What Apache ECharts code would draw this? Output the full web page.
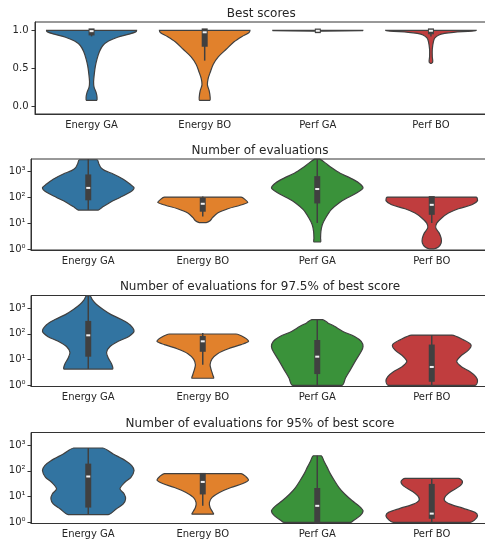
<!DOCTYPE html>
<html>
<head>
<meta charset="utf-8">
<script src="https://cdn.jsdelivr.net/npm/echarts@6/dist/echarts.min.js"></script>
<style>
  html, body { margin: 0; padding: 0; background: #fff; }
  #main { width: 485px; height: 541px; }
</style>
</head>
<body>
<div id="main"></div>
<script>
var categories = ['Energy GA', 'Energy BO', 'Perf GA', 'Perf BO'];
var titles = ['Best scores', 'Number of evaluations',
  'Number of evaluations for 97.5% of best score', 'Number of evaluations for 95% of best score'];
var colors = ['#3274a1', '#e1812c', '#3a923a', '#c03d3e'];

// violin outlines, bottom to top: [value, half width as share of the category band]
var bestShape = [
  [[0.075, 0.045], [0.12, 0.048], [0.18, 0.04], [0.25, 0.022], [0.32, 0.018], [0.42, 0.024], [0.52, 0.033],
   [0.62, 0.048], [0.72, 0.07], [0.8, 0.1], [0.86, 0.15], [0.91, 0.23], [0.95, 0.33], [0.98, 0.39], [1.0, 0.398]],
  [[0.075, 0.045], [0.12, 0.048], [0.2, 0.04], [0.28, 0.024], [0.36, 0.03], [0.45, 0.05], [0.55, 0.075],
   [0.65, 0.12], [0.75, 0.19], [0.85, 0.26], [0.92, 0.33], [0.97, 0.39], [1.0, 0.4]],
  [[0.978, 0.008], [0.99, 0.02], [0.996, 0.39], [1.0, 0.398]],
  [[0.565, 0.005], [0.575, 0.014], [0.6, 0.016], [0.65, 0.012], [0.75, 0.012], [0.85, 0.022], [0.9, 0.035],
   [0.94, 0.07], [0.96, 0.12], [0.975, 0.2], [0.99, 0.36], [1.0, 0.4]]
];
// [whisker low, q1, median, q3, whisker high]
var bestBox = [
  [0.92, 0.96, 0.99, 1.0, 1.0],
  [0.6, 0.81, 0.975, 1.0, 1.0],
  [0.985, 0.99, 0.995, 0.998, 1.0],
  [0.92, 0.975, 0.995, 1.0, 1.0]
];

var evalShape = [
  [[32, 0.087], [41, 0.122], [63, 0.19], [98, 0.277], [155, 0.364], [229, 0.4], [324, 0.364], [500, 0.306],
   [794, 0.218], [1070, 0.146], [1410, 0.11], [1950, 0.093], [2820, 0.077]],
  [[10.5, 0.03], [12.3, 0.064], [16.6, 0.087], [24.5, 0.13], [36, 0.22], [49, 0.326], [63, 0.393], [79, 0.373], [102, 0.335]],
  [[1.86, 0.029], [2.6, 0.029], [4.8, 0.032], [8.7, 0.044], [15.8, 0.073], [33, 0.122], [60, 0.19], [93, 0.26],
   [145, 0.343], [229, 0.4], [355, 0.364], [550, 0.29], [850, 0.2], [1350, 0.13], [2090, 0.073], [3000, 0.023]],
  [[1, 0.017], [1.2, 0.058], [1.7, 0.082], [2.6, 0.082], [4.2, 0.064], [6.5, 0.035], [10, 0.044], [15.8, 0.087],
   [24.5, 0.146], [36, 0.233], [51, 0.35], [74, 0.4], [102, 0.387]]
];
var evalBox = [
  [32, 91, 230, 640, 3000],
  [18, 33, 56, 80, 107],
  [10, 69, 208, 550, 3000],
  [10, 25, 51, 93, 100]
];

var eval975Shape = [
  [[4.3, 0.21], [6.8, 0.204], [11.5, 0.175], [19, 0.16], [32, 0.19], [51, 0.262], [79, 0.355], [126, 0.4],
   [224, 0.364], [355, 0.29], [550, 0.2], [870, 0.13], [1350, 0.073], [2090, 0.035], [3000, 0.015]],
  [[1.9, 0.093], [2.6, 0.087], [4.1, 0.073], [6.3, 0.064], [10.5, 0.08], [17, 0.13], [25.7, 0.218], [38, 0.335],
   [51, 0.4], [72, 0.364], [98, 0.29]],
  [[1, 0.215], [1.95, 0.247], [4.1, 0.29], [10, 0.34], [21, 0.385], [32, 0.4], [51, 0.384], [79, 0.326],
   [123, 0.224], [195, 0.15], [263, 0.093], [352, 0.048]],
  [[1, 0.378], [1.48, 0.4], [2.2, 0.384], [3.4, 0.335], [5.2, 0.262], [8.3, 0.218], [12.9, 0.247], [23.4, 0.32],
   [37, 0.343], [58, 0.277], [89, 0.175]]
];
var eval975Box = [
  [4.3, 15.5, 87, 263, 3000],
  [6.3, 24, 51, 69, 107],
  [1, 3.3, 13, 48, 352],
  [1, 1.66, 5.2, 32, 89]
];

var eval95Shape = [
  [[2.0, 0.175], [3.4, 0.247], [5.2, 0.306], [8.1, 0.326], [12.6, 0.314], [20, 0.277], [36, 0.32], [56, 0.373],
   [102, 0.4], [158, 0.38], [245, 0.326], [447, 0.218], [760, 0.127]],
  [[2.1, 0.093], [2.7, 0.082], [3.8, 0.064], [5.9, 0.058], [9.3, 0.082], [14.5, 0.146], [22.4, 0.247], [32, 0.35],
   [44, 0.4], [59, 0.378], [78, 0.335]],
  [[1, 0.29], [1.23, 0.32], [1.8, 0.373], [2.8, 0.4], [4.4, 0.364], [6.9, 0.306], [12.6, 0.24], [22.4, 0.19],
   [41, 0.151], [74, 0.116], [135, 0.087], [240, 0.058], [380, 0.035]],
  [[1, 0.335], [1.23, 0.373], [1.8, 0.4], [2.45, 0.378], [3.5, 0.277], [5.1, 0.16], [7.2, 0.11], [10.7, 0.122],
   [16.6, 0.175], [26, 0.247], [39, 0.268], [51, 0.233]]
];
var eval95Box = [
  [2.0, 4.5, 60, 158, 760],
  [4.4, 14.5, 37, 69, 78],
  [1, 1.1, 4.4, 18, 380],
  [1, 1.66, 2.2, 26, 51]
];

var linTicks = [0, 0.5, 1.0];
var logTicks = [1, 10, 100, 1000];
var supers = { 0: '\u2070', 1: '\u00b9', 2: '\u00b2', 3: '\u00b3' };

var FONT = 'DejaVu Sans';
var LINE = '#404040';

var grids = [
  { left: 35, top: 22, width: 452.5, height: 92 },
  { left: 31, top: 159, width: 458, height: 91 },
  { left: 31, top: 295.5, width: 458, height: 91 },
  { left: 31, top: 432.5, width: 458, height: 91 }
];

function ident(v) { return v; }
function lg(v) { return Math.log10(v); }

function violinSeries(p, shapes, boxes, tr) {
  return {
    type: 'custom',
    xAxisIndex: p,
    yAxisIndex: p,
    encode: { x: 0, y: 1 },
    data: categories.map(function (c, i) { return [i, tr(boxes[i][2])]; }),
    renderItem: function (params, api) {
      var i = api.value(0);
      var band = api.size([1, 0])[0];
      var left = [], right = [];
      var minX = Infinity, maxX = -Infinity, minY = Infinity, maxY = -Infinity;
      shapes[i].forEach(function (s) {
        var c = api.coord([i, tr(s[0])]);
        var d = s[1] * band;
        left.push([c[0] - d, c[1]]);
        right.unshift([c[0] + d, c[1]]);
        minX = Math.min(minX, c[0] - d); maxX = Math.max(maxX, c[0] + d);
        minY = Math.min(minY, c[1]); maxY = Math.max(maxY, c[1]);
      });
      var b = boxes[i];
      var cx = api.coord([i, tr(b[2])])[0];
      var yLo = api.coord([i, tr(b[0])])[1];
      var yQ1 = api.coord([i, tr(b[1])])[1];
      var yMed = api.coord([i, tr(b[2])])[1];
      var yQ3 = api.coord([i, tr(b[3])])[1];
      var yHi = api.coord([i, tr(b[4])])[1];
      return {
        type: 'group',
        children: [
          {
            type: 'polygon',
            shape: { points: left.concat(right), smooth: 0.3, smoothConstraint: [[minX, minY], [maxX, maxY]] },
            style: { fill: colors[i], stroke: LINE, lineWidth: 1.2 }
          },
          {
            type: 'line',
            shape: { x1: cx, y1: yLo, x2: cx, y2: yHi },
            style: { stroke: LINE, lineWidth: 1.5 }
          },
          {
            type: 'rect',
            shape: { x: cx - 3, y: yQ3 - 2, width: 6, height: yQ1 - yQ3 + 4 },
            style: { fill: LINE }
          },
          {
            type: 'rect',
            shape: { x: cx - 2, y: yMed - 1, width: 4, height: 2 },
            style: { fill: '#f2f2f2' }
          }
        ]
      };
    }
  };
}

var isLog = [false, true, true, true];
var allShapes = [bestShape, evalShape, eval975Shape, eval95Shape];
var allBoxes = [bestBox, evalBox, eval975Box, eval95Box];

var minorTicks = [];
[1, 10, 100, 1000].forEach(function (d) {
  for (var k = 2; k <= 9; k++) {
    if (k * d <= 3000) minorTicks.push(Math.log10(k * d));
  }
});

var xAxes = [], yAxes = [], series = [], titleOpts = [];
grids.forEach(function (g, p) {
  var log = isLog[p];
  titleOpts.push({
    text: titles[p],
    left: g.left + g.width / 2,
    top: g.top - 14.5,
    textAlign: 'center',
    padding: 0,
    textStyle: { fontSize: 12, fontWeight: 'normal', color: '#262626', fontFamily: FONT }
  });
  xAxes.push({
    type: 'category',
    gridIndex: p,
    data: categories,
    axisLine: { onZero: false, lineStyle: { color: '#333', width: 1 } },
    axisTick: { alignWithLabel: true, length: 3.5, lineStyle: { color: '#333' } },
    axisLabel: { color: '#262626', fontSize: 10, fontFamily: FONT, margin: 6 },
    splitLine: { show: false }
  });
  yAxes.push({
    type: 'value',
    gridIndex: p,
    min: log ? -0.04 : -0.106,
    max: log ? 3.48 : 1.111,
    axisLine: { show: true, onZero: false, lineStyle: { color: '#333', width: 1 } },
    axisTick: {
      show: true, length: 3.5, lineStyle: { color: '#333' },
      customValues: log ? logTicks.map(lg) : linTicks
    },
    axisLabel: {
      color: '#262626', fontSize: 10, fontFamily: FONT, margin: log ? 5.5 : 6.5,
      customValues: log ? logTicks.map(lg) : linTicks,
      formatter: function (v) {
        if (log) return '10' + supers[Math.round(v)];
        return v.toFixed(1);
      }
    },
    splitLine: { show: false }
  });
  series.push(violinSeries(p, allShapes[p], allBoxes[p], log ? lg : ident));
});

// minor log ticks on the three lower panels
[1, 2, 3].forEach(function (p) {
  yAxes.push({
    type: 'value',
    gridIndex: p,
    min: -0.04,
    max: 3.48,
    axisLine: { show: false, onZero: false },
    axisTick: { show: true, length: 2, lineStyle: { color: '#333', width: 0.6 }, customValues: minorTicks },
    axisLabel: { show: false },
    splitLine: { show: false }
  });
});

var myChart = echarts.init(document.getElementById('main'), null, { renderer: 'canvas' });
var option = {
  animation: false,
  backgroundColor: '#fff',
  title: titleOpts,
  grid: grids.map(function (g) {
    return {
      left: g.left, top: g.top, width: g.width, height: g.height,
      show: true, borderColor: '#333', borderWidth: 1, backgroundColor: 'transparent',
      containLabel: false, outerBoundsMode: 'none'
    };
  }),
  xAxis: xAxes,
  yAxis: yAxes,
  series: series
};
myChart.setOption(option);
</script>
</body>
</html>
